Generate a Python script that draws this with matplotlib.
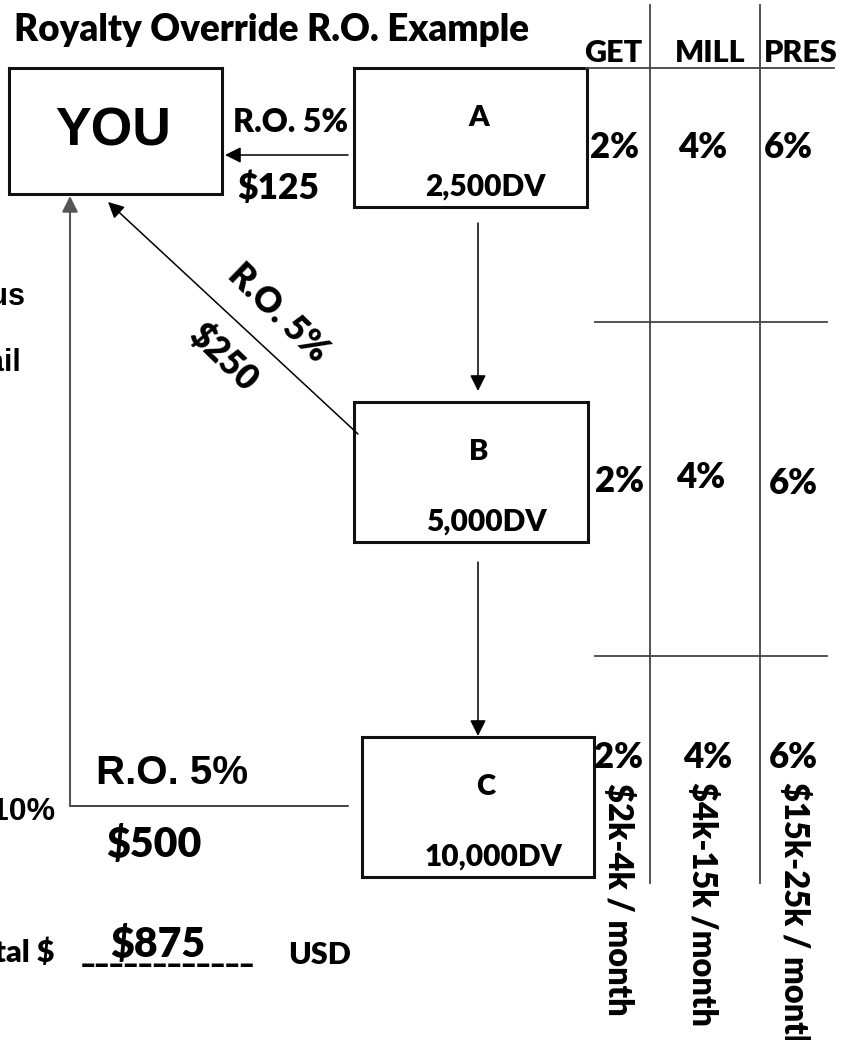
import matplotlib
matplotlib.use("Agg")
import matplotlib.pyplot as plt
from matplotlib.patches import Rectangle

# --- content ---
title = "Royalty Override R.O. Example"
box_names = ["A", "B", "C"]
box_dv = ["2,500DV", "5,000DV", "10,000DV"]
ro_labels = ["R.O. 5%", "R.O. 5%", "R.O. 5%"]
ro_amounts = ["$125", "$250", "$500"]
total_amount = "$875"
levels = ["GET", "MILL", "PRES"]
level_rates = [["2%", "4%", "6%"], ["2%", "4%", "6%"], ["2%", "4%", "6%"]]
level_income = ["$2k-4k / month", "$4k-15k /month", "$15k-25k / month"]
left_words = ["Bonus", "Retail", "10%", "Total $"]

W, H = 850, 1040
fig = plt.figure(figsize=(W / 100, H / 100), dpi=100)
ax = fig.add_axes([0, 0, 1, 1])
ax.set_xlim(0, W)
ax.set_ylim(H, 0)
ax.axis("off")

CAL = ["Lato", "DejaVu Sans"]      # stand-in for Calibri
ARI = ["Liberation Sans", "DejaVu Sans"]


def box(x0, y0, x1, y1):
    ax.add_patch(Rectangle((x0, y0), x1 - x0, y1 - y0, fill=False,
                           lw=2.2, ec="#111111"))


def arrow(x0, y0, x1, y1, color="black", lw=1.1):
    ax.annotate("", xy=(x1, y1), xytext=(x0, y0),
                arrowprops=dict(arrowstyle="-|>", mutation_scale=24, lw=lw,
                                color=color, shrinkA=0, shrinkB=0))


def txt(x, y, s, size, fam=CAL, rot=0, ha="center", weight="heavy"):
    ax.text(x, y, s, fontsize=size, family=fam, weight=weight, ha=ha,
            va="center", rotation=rot, rotation_mode="anchor", color="black")


txt(272, 30, title, 26.5)

# YOU box
box(9, 68, 222, 194)
txt(113, 131, "YOU", 38.5, fam=ARI, weight="bold")

# downline boxes
boxes = [(354, 68, 587, 207), (354, 402, 588, 542), (362, 737, 594, 877)]
for (x0, y0, x1, y1), nm, dv in zip(boxes, box_names, box_dv):
    box(x0, y0, x1, y1)
    cx = (x0 + x1) / 2
    txt(cx + 8, y0 + 50, nm, 21)
    txt(cx + 15, y1 - 20, dv, 21.5)

# arrows between boxes
arrow(478, 223, 478, 391)
arrow(478, 562, 478, 736)

# A -> YOU
arrow(348, 155, 225, 155)
txt(291, 122, ro_labels[0], 23)
txt(278, 188, ro_amounts[0], 25.5)

# B -> YOU (diagonal)
arrow(358, 434, 108, 202)
txt(278, 313, ro_labels[1], 25, rot=-44)
txt(224, 357, ro_amounts[1], 25, rot=-44)

# C -> YOU
ax.plot([348, 70], [806, 806], color="#111111", lw=1.1)
arrow(70, 806, 70, 196, color="#555555", lw=1.5)
txt(172, 773, ro_labels[2], 29, fam=ARI, weight="bold")
txt(154, 845, ro_amounts[2], 29.5)

# left side (cut off words)
txt(25, 297, left_words[0], 22, fam=ARI, ha="right", weight="bold")
txt(21, 363, left_words[1], 22, fam=ARI, ha="right", weight="bold")
txt(55, 812, left_words[2], 23, fam=ARI, ha="right", weight="bold")
txt(54, 953, left_words[3], 22, ha="right")

# total
txt(168, 953, "____________", 22)
txt(158, 944, total_amount, 29.5)
txt(320, 955, "USD", 22)

# level table
for x in [650, 760]:
    ax.plot([x, x], [5, 883], color="#444444", lw=1.3)
ax.plot([586, 834], [68, 68], color="#444444", lw=1.3)
for y in [322, 656]:
    ax.plot([595, 827], [y, y], color="#444444", lw=1.3)

for x, lv in zip([613, 710, 801], levels):
    txt(x, 53, lv, 22)

rate_pos = [
    [(615, 147), (703, 147), (788, 147)],
    [(620, 481), (701, 478), (793, 484)],
    [(619, 757), (708, 757), (793, 757)],
]
for row, pos in zip(level_rates, rate_pos):
    for r, (x, y) in zip(row, pos):
        txt(x, y, r, 25)

for x, y, s in zip([618, 702, 794], [783, 782, 782], level_income):
    txt(x, y, s, 23.5, rot=-90, ha="left")

fig.savefig("out.png", dpi=100, facecolor="white")
